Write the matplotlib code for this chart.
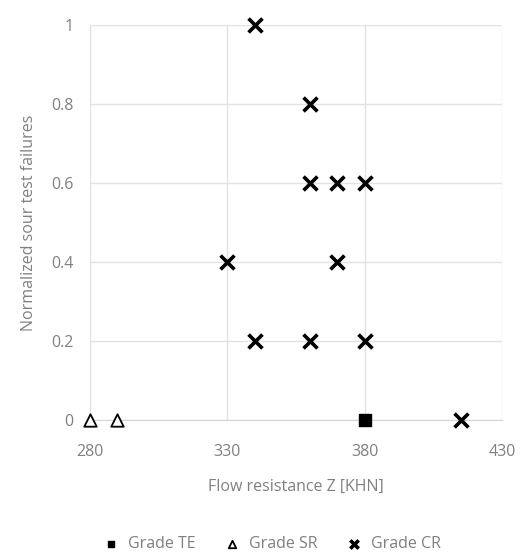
import matplotlib
matplotlib.use("Agg")
import matplotlib.pyplot as plt

te_x = [380]
te_y = [0]
sr_x = [280, 290]
sr_y = [0, 0]
cr_x = [340, 360, 360, 370, 380, 330, 370, 340, 360, 380, 415]
cr_y = [1.0, 0.8, 0.6, 0.6, 0.6, 0.4, 0.4, 0.2, 0.2, 0.2, 0.0]
x_ticks = [280, 330, 380, 430]
y_ticks = [0, 0.2, 0.4, 0.6, 0.8, 1]
y_ticklabels = ["0", "0.2", "0.4", "0.6", "0.8", "1"]

plt.rcParams['font.family'] = ['Open Sans', 'DejaVu Sans']
grey = '#808080'

fig = plt.figure(figsize=(5.31, 5.6), dpi=100)
ax = fig.add_axes([90/531, 1-420/560, (502-90)/531, (420-25)/560])

ax.scatter(te_x, te_y, marker='s', s=70, color='black', label='Grade TE', zorder=3, clip_on=False)
ax.scatter(sr_x, sr_y, marker='^', s=80, facecolors='white', edgecolors='black', linewidths=1.3,
           label='Grade SR', zorder=3, clip_on=False)
ax.scatter(cr_x, cr_y, marker='x', s=100, color='black', linewidths=2.6, label='Grade CR', zorder=3, clip_on=False)

ax.set_xlim(280, 430)
ax.set_ylim(0, 1)
ax.set_xticks(x_ticks)
ax.set_yticks(y_ticks)
ax.set_yticklabels(y_ticklabels)
ax.grid(True, color='#e2e2e2', linewidth=1)
ax.set_axisbelow(True)
for s in ax.spines.values():
    s.set_visible(False)
ax.spines['bottom'].set_visible(True)
ax.spines['bottom'].set_color('#d9d4d0')
ax.spines['left'].set_visible(True)
ax.spines['left'].set_color('#e2e2e2')
ax.tick_params(length=0, labelsize=11.5, colors=grey)
ax.tick_params(axis='x', pad=17)
ax.tick_params(axis='y', pad=12)

ax.set_xlabel('Flow resistance Z [KHN]', fontsize=11.5, color=grey, labelpad=14)
ax.set_ylabel('Normalized sour test failures', fontsize=11.5, color=grey, labelpad=10)

fig.legend(loc='lower center', bbox_to_anchor=(0.505, -0.012), ncol=3, frameon=False,
           fontsize=11.5, labelcolor=grey, handletextpad=0.05, columnspacing=1.3, markerscale=0.6)

fig.savefig('out.png', dpi=100)
